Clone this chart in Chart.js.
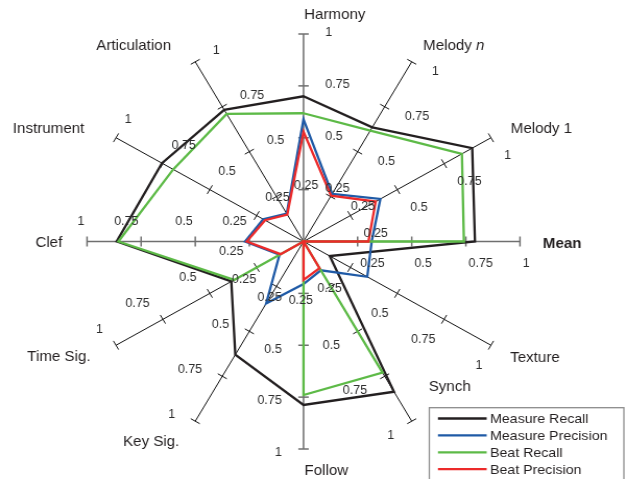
<!DOCTYPE html>
<html>
<head>
<meta charset="utf-8">
<script src="https://cdn.jsdelivr.net/npm/chart.js@4.4.0/dist/chart.umd.min.js"></script>
<style>
  html, body { margin: 0; padding: 0; background: #fff; overflow: hidden; }
  /* the plot is drawn on a slightly narrower canvas and widened to fill the page */
  #wrap { position: absolute; left: 0; top: 0; width: 601px; height: 479px;
          transform-origin: 0 0; transform: scaleX(1.04326); }
  canvas { display: block; }
</style>
</head>
<body>
<div id="wrap"><canvas id="c" width="601" height="479"></canvas></div>
<script>
// ---- data ----
const categories = ['Harmony', 'Melody n', 'Melody 1', 'Mean', 'Texture', 'Synch',
                    'Follow', 'Key Sig.', 'Time Sig.', 'Clef', 'Instrument', 'Articulation'];
const measureRecall    = [0.700, 0.635, 0.900, 0.792, 0.140, 0.836, 0.788, 0.630, 0.385, 0.863, 0.755, 0.733];
const measurePrecision = [0.589, 0.265, 0.410, 0.315, 0.340, 0.160, 0.205, 0.345, 0.128, 0.270, 0.215, 0.155];
const beatRecall       = [0.618, 0.617, 0.845, 0.741, 0.000, 0.730, 0.740, 0.000, 0.370, 0.855, 0.695, 0.710];
const beatPrecision    = [0.529, 0.255, 0.385, 0.300, 0.000, 0.148, 0.185, 0.000, 0.122, 0.262, 0.205, 0.150];
const seriesNames = ['Measure Recall', 'Measure Precision', 'Beat Recall', 'Beat Precision'];
const tickValues = [0.25, 0.5, 0.75, 1];
const tickLabels = ['0.25', '0.5', '0.75', '1'];

// ---- styling / layout ----
const FONT = '"Liberation Sans", Arial, Helvetica, sans-serif';
const seriesColors = ['#231f20', '#1f5aa6', '#5dba47', '#ec2a2a'];
const drawOrder = [3, 2, 1, 0];           // beat precision ends up on top
const TICK_HALF = 5;                      // half length of the tick marks
const LABEL_GAP = 21;                     // tick label distance from its tick
const LABEL_DROP = 1.5;                   // optical vertical correction of the tick labels
const NAME_GAP = 21;                      // axis name distance from axis end
const NAME_DROP = 1;
// small per-axis adjustments of the axis names [dx, dy]
const nameNudge = [[0.6, 1], [0.4, 1.4], [0.8, 1], [0.9, 1.2], [0.2, 1.2], [5.75, -53.7],
                   [0.9, 0], [-4.75, 1.6], [-6.2, 0.3], [-2.7, 0.8], [-12.2, 0.5], [-12.65, 1.4]];
const nameAlign = [null, null, null, null, null, 'left', null, null, null, null, null, null];
const boldNames = ['Mean'];
const italicTail = { 'Melody n': 'n' };

function isMainAxis(i) { return i % 3 === 0; }
function spokeColor(i) { return isMainAxis(i) ? '#6f6f6f' : '#111111'; }
function spokeWidth(i) { return isMainAxis(i) ? 1.5 : 1.0; }

// tick marks across every spoke, plus the numeric labels and axis names
const axisDecor = {
  id: 'axisDecor',
  beforeDatasetsDraw(chart) {
    const s = chart.scales.r, ctx = chart.ctx;
    ctx.save();
    categories.forEach((_, i) => {
      const th = s.getIndexAngle(i);
      const px = Math.cos(th), py = Math.sin(th);
      ctx.strokeStyle = spokeColor(i);
      ctx.lineWidth = spokeWidth(i);
      tickValues.forEach(v => {
        const p = s.getPointPosition(i, s.getDistanceFromCenterForValue(v));
        ctx.beginPath();
        ctx.moveTo(p.x - px * TICK_HALF, p.y - py * TICK_HALF);
        ctx.lineTo(p.x + px * TICK_HALF, p.y + py * TICK_HALF);
        ctx.stroke();
      });
    });
    ctx.restore();
  },
  afterDatasetsDraw(chart) {
    const s = chart.scales.r, ctx = chart.ctx;
    ctx.save();
    ctx.textBaseline = 'middle';
    // numeric labels beside each tick, on the clockwise side of the spoke
    ctx.font = '12px ' + FONT;
    ctx.fillStyle = '#2d2d2d';
    categories.forEach((_, i) => {
      const th = s.getIndexAngle(i);
      let dx = Math.cos(th) + 0.12 * Math.sin(th);
      let dy = Math.sin(th) - 0.12 * Math.cos(th);
      const n = Math.hypot(dx, dy); dx /= n; dy /= n;
      ctx.textAlign = dx >= 0 ? 'left' : 'right';
      tickValues.forEach((v, k) => {
        const p = s.getPointPosition(i, s.getDistanceFromCenterForValue(v));
        ctx.fillText(tickLabels[k], p.x + dx * LABEL_GAP, p.y + dy * LABEL_GAP + LABEL_DROP);
      });
    });
    // axis names beyond the end of each spoke
    ctx.fillStyle = '#231f20';
    categories.forEach((name, i) => {
      const th = s.getIndexAngle(i);
      const ox = Math.sin(th), oy = -Math.cos(th);
      const end = s.getPointPosition(i, s.getDistanceFromCenterForValue(1));
      let align = ox < -0.01 ? 'right' : 'left';
      if (nameAlign[i]) align = nameAlign[i];
      const x = end.x + ox * NAME_GAP + nameNudge[i][0];
      const y = end.y + oy * NAME_GAP + nameNudge[i][1] + NAME_DROP;
      const weight = boldNames.includes(name) ? 'bold ' : '';
      ctx.font = weight + '14.5px ' + FONT;
      const tail = italicTail[name];
      if (tail) {
        const head = name.slice(0, name.length - tail.length);
        const wHead = ctx.measureText(head).width;
        ctx.font = 'italic 14.5px ' + FONT;
        const wTail = ctx.measureText(tail).width;
        const x0 = align === 'left' ? x : x - wHead - wTail;
        ctx.textAlign = 'left';
        ctx.font = weight + '14.5px ' + FONT;
        ctx.fillText(head, x0, y);
        ctx.font = 'italic 14.5px ' + FONT;
        ctx.fillText(tail, x0 + wHead, y);
      } else {
        ctx.textAlign = align;
        ctx.fillText(name, x, y);
      }
    });
    ctx.restore();
  }
};

// framed legend in the lower right corner
const legendBox = {
  id: 'legendBox',
  afterDraw(chart) {
    const ctx = chart.ctx;
    ctx.save();
    ctx.strokeStyle = '#8c8c8c';
    ctx.lineWidth = 1.3;
    ctx.strokeRect(411.5, 407.7, 186.5, 85);
    ctx.font = '13.6px ' + FONT;
    ctx.textBaseline = 'middle';
    ctx.textAlign = 'left';
    chart.data.datasets.forEach((ds, i) => {
      const y = 418.5 + i * 16.9;
      ctx.strokeStyle = ds.borderColor;
      ctx.lineWidth = 2.3;
      ctx.beginPath();
      ctx.moveTo(419.8, y);
      ctx.lineTo(466.5, y);
      ctx.stroke();
      ctx.fillStyle = '#231f20';
      ctx.fillText(ds.label, 469.7, y + 1);
    });
    ctx.restore();
  }
};

const seriesData = [measureRecall, measurePrecision, beatRecall, beatPrecision];

new Chart(document.getElementById('c'), {
  type: 'radar',
  data: {
    labels: categories,
    datasets: seriesData.map((d, i) => ({
      label: seriesNames[i],
      data: d,
      borderColor: seriesColors[i],
      backgroundColor: 'transparent',
      order: drawOrder[i]
    }))
  },
  options: {
    responsive: false,
    animation: false,
    devicePixelRatio: 1,
    layout: { padding: { left: 83.4, top: 34, right: 102.6, bottom: 30 } },
    plugins: { legend: { display: false }, tooltip: { enabled: false } },
    elements: {
      line: { tension: 0, borderWidth: 2.3, fill: false, borderJoinStyle: 'miter' },
      point: { radius: 0, hoverRadius: 0 }
    },
    scales: {
      r: {
        min: 0, max: 1, startAngle: 0,
        grid: { display: false },
        ticks: { display: false },
        pointLabels: { display: false },
        angleLines: {
          display: true,
          color: c => spokeColor(c.index),
          lineWidth: c => spokeWidth(c.index)
        },
        afterFit: s => {
          s.xCenter = s.left + s.width / 2;
          s.yCenter = s.top + s.height / 2;
          s.drawingArea = Math.min(s.width, s.height) / 2;
        }
      }
    }
  },
  plugins: [axisDecor, legendBox]
});
</script>
</body>
</html>
